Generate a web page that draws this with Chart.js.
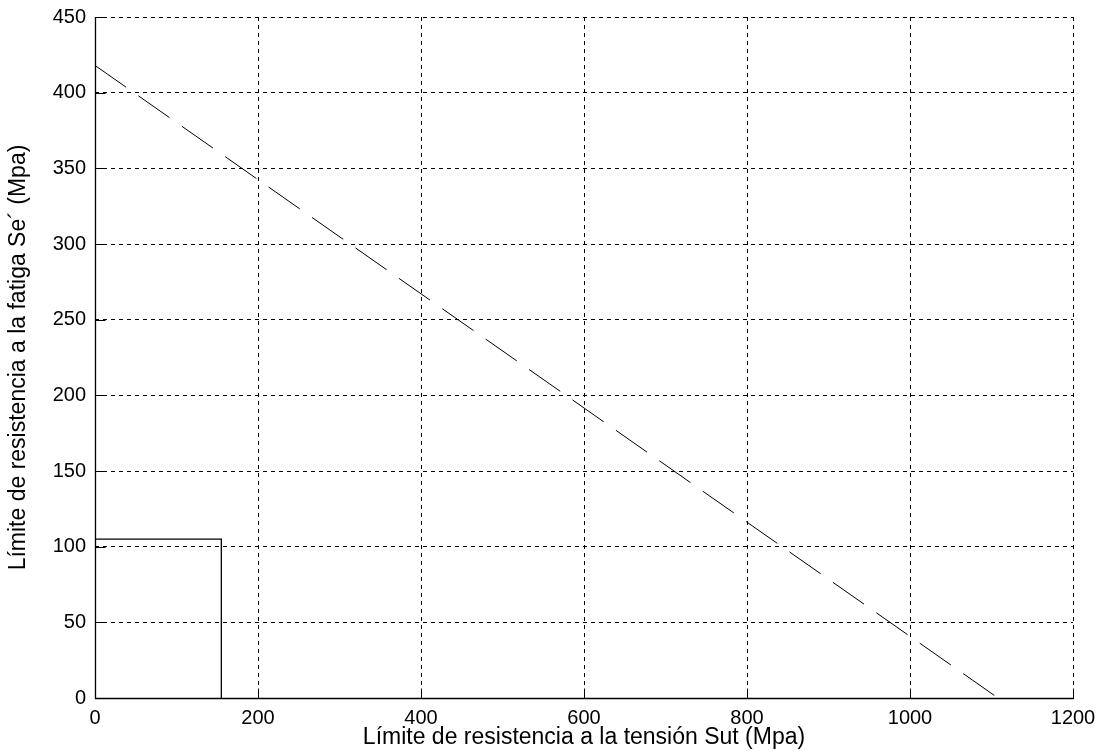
<!doctype html>
<html lang="es">
<head>
    <meta charset="utf-8">
    <title>Límite de resistencia a la fatiga</title>
    <script src="https://cdn.jsdelivr.net/npm/chart.js"></script>
    <style>
        body { margin: 0; background: #fff; }
        canvas { display: block; }
    </style>
</head>
<body>

<canvas id="myChart" width="1106" height="751"></canvas>

<script>
    // Se' estimada en funcion de Sut (linea discontinua)
    const sutLine = [0, 1108];
    const seLine = [418, 0];

    // limite del material (linea continua)
    const sutLimit = [0, 155, 155];
    const seLimit = [105, 105, 0];

    const xTicks = [0, 200, 400, 600, 800, 1000, 1200];
    const yTicks = [0, 50, 100, 150, 200, 250, 300, 350, 400, 450];

    function toPoints(xs, ys) {
        return xs.map(function (x, i) { return {x: x, y: ys[i]}; });
    }

    // ejes continuos y marcas de division hacia dentro, como en matlab
    const innerTicks = {
        id: 'innerTicks',
        afterDraw: function (chart) {
            const ctx = chart.ctx;
            const xs = chart.scales.x;
            const ys = chart.scales.y;
            const area = chart.chartArea;
            const left = Math.round(area.left) + 0.5;
            const bottom = Math.round(area.bottom) + 0.5;
            ctx.save();
            ctx.strokeStyle = '#000';
            ctx.lineWidth = 1.3;
            ctx.beginPath();
            ctx.moveTo(left, Math.round(area.top));
            ctx.lineTo(left, bottom);
            ctx.lineTo(Math.round(area.right) + 1, bottom);
            ctx.stroke();
            ctx.lineWidth = 1;
            ctx.beginPath();
            xTicks.forEach(function (v) {
                const px = Math.round(xs.getPixelForValue(v)) + 0.5;
                ctx.moveTo(px, bottom);
                ctx.lineTo(px, bottom - 10);
            });
            yTicks.forEach(function (v) {
                const py = Math.round(ys.getPixelForValue(v)) + 0.5;
                ctx.moveTo(left, py);
                ctx.lineTo(left + 10, py);
            });
            ctx.stroke();
            ctx.restore();
        }
    };

    const gridStyle = {
        color: '#000',
        lineWidth: 1,
        drawTicks: false
    };

    const config = {
        type: 'scatter',
        data: {
            datasets: [{
                data: toPoints(sutLine, seLine),
                showLine: true,
                borderColor: '#000',
                borderWidth: 1,
                borderDash: [38, 15],
                pointRadius: 0
            }, {
                data: toPoints(sutLimit, seLimit),
                showLine: true,
                borderColor: '#000',
                borderWidth: 1.3,
                pointRadius: 0
            }]
        },
        options: {
            responsive: false,
            animation: false,
            layout: {padding: {left: 0, right: 33, top: 17, bottom: 0}},
            plugins: {
                legend: {display: false},
                tooltip: {enabled: false}
            },
            scales: {
                x: {
                    type: 'linear',
                    min: 0,
                    max: 1200,
                    afterBuildTicks: function (s) {
                        s.ticks = xTicks.map(function (v) { return {value: v}; });
                    },
                    afterFit: function (s) {
                        s.height = 53;
                        s.paddingLeft = 0;
                        s.paddingRight = 0;
                    },
                    grid: gridStyle,
                    border: {display: false, dash: [4, 4]},
                    ticks: {
                        color: '#000',
                        padding: 8,
                        maxRotation: 0,
                        callback: function (v) { return String(v); },
                        font: {family: 'Liberation Sans, Arial', size: 20}
                    },
                    title: {
                        display: true,
                        text: 'Límite de resistencia a la tensión Sut (Mpa)',
                        color: '#000',
                        padding: {top: 0, bottom: 0},
                        font: {family: 'Liberation Sans, Arial', size: 23}
                    }
                },
                y: {
                    type: 'linear',
                    min: 0,
                    max: 450,
                    afterBuildTicks: function (s) {
                        s.ticks = yTicks.map(function (v) { return {value: v}; });
                    },
                    afterFit: function (s) {
                        s.width = 95;
                        s.paddingTop = 0;
                        s.paddingBottom = 0;
                    },
                    grid: gridStyle,
                    border: {display: false, dash: [4, 4]},
                    ticks: {
                        color: '#000',
                        padding: 9,
                        callback: function (v) { return String(v); },
                        font: {family: 'Liberation Sans, Arial', size: 20}
                    },
                    title: {
                        display: true,
                        text: 'Límite de resistencia a la fatiga Se´ (Mpa)',
                        color: '#000',
                        padding: {top: 5, bottom: 0},
                        font: {family: 'Liberation Sans, Arial', size: 23}
                    }
                }
            }
        },
        plugins: [innerTicks]
    };

    const myChart = new Chart(document.getElementById('myChart'), config);
</script>

</body>
</html>
